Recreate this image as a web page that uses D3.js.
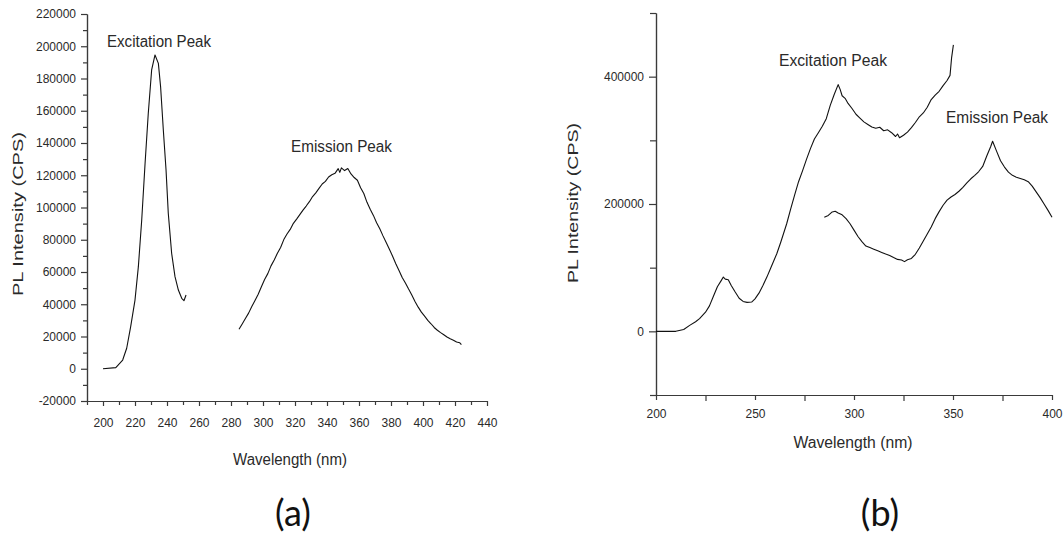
<!DOCTYPE html>
<html>
<head>
<meta charset="utf-8">
<script src="https://cdn.jsdelivr.net/npm/d3@7"></script>
<style>
  html, body { margin: 0; padding: 0; background: #fff; }
  svg { display: block; }
  text { font-family: "Liberation Sans", Arial, sans-serif; fill: #2a2a2a; }
</style>
</head>
<body>
<svg id="fig" width="1063" height="540"></svg>
<script>
// ---------- Panel (a): single-peak spectra ----------
const aExcitation = [
  [200, 0], [208, 700], [212.3, 5400], [214.8, 12700], [217.3, 26100], [220, 42600],
  [222.1, 63300], [224.2, 92200], [226.3, 127400], [228.3, 158400], [230.4, 185300],
  [232.5, 194600], [234.6, 189400], [236, 174900], [237.7, 148100], [239.4, 123300],
  [240.8, 96400], [242.9, 71600], [245, 57100], [247.1, 48800], [249.2, 43700],
  [250.6, 42200], [251.9, 45700]
];
const aEmission = [
  [285, 24500], [287, 27800], [289, 31200], [291, 34500], [293, 38600], [295, 42300],
  [297, 46200], [299, 50800], [301, 55400], [303, 59000], [305, 63800], [307, 67500],
  [309, 71600], [311, 75200], [313, 80100], [315, 83600], [317, 86400], [319, 90200],
  [321, 92800], [323, 95600], [325, 98400], [327, 100900], [329, 103600], [331, 106800],
  [333, 109100], [335, 111900], [337, 114600], [339, 116200], [341, 118900], [343, 120300],
  [345, 121200], [347, 124100], [348, 121800], [349, 124600], [351, 122900], [353, 124200],
  [355, 120800], [357, 118600], [359, 116900], [361, 112300], [363, 108700], [365, 103200],
  [367, 98900], [369, 95100], [371, 90600], [373, 86800], [375, 82400], [377, 78300],
  [379, 74100], [381, 69800], [383, 65100], [385, 60900], [387, 56600], [389, 53200],
  [391, 49400], [393, 45800], [395, 41700], [397, 38200], [399, 35100], [401, 32600],
  [403, 30000], [405, 27900], [407, 25600], [409, 23900], [411, 22400], [413, 21100],
  [415, 19700], [417, 18600], [419, 17700], [421, 16600], [423, 16100], [424, 15000]
];
const aXTicks = [200, 220, 240, 260, 280, 300, 320, 340, 360, 380, 400, 420, 440];
const aXMinor = [190, 210, 230, 250, 270, 290, 310, 330, 350, 370, 390, 410, 430];
const aYTicks = [-20000, 0, 20000, 40000, 60000, 80000, 100000, 120000, 140000,
                 160000, 180000, 200000, 220000];
const aYMinor = [-10000, 10000, 30000, 50000, 70000, 90000, 110000, 130000, 150000,
                 170000, 190000, 210000];

// ---------- Panel (b): two-band spectra ----------
const bExcitation = [
  [200, 0], [210, 0], [214, 3000], [217, 9400], [220, 15000], [222, 19900], [225, 30000],
  [227, 40000], [229, 55000], [231, 70000], [233, 80000], [234, 85200], [235, 82000],
  [236.5, 81100], [238, 72000], [240, 61700], [242, 52000], [244, 47000], [246, 45500],
  [248.3, 46000], [250, 51000], [252, 60000], [254, 72000], [256, 85200], [258, 100000],
  [261, 121900], [263, 140000], [266, 169000], [268, 192000], [270, 214000], [272, 235000],
  [274, 252000], [276, 270000], [278, 287000], [280, 302000], [282, 312000], [284, 322000],
  [286, 334000], [288, 355000], [290, 372000], [292, 387500], [293, 380000], [294, 370000],
  [295.5, 366000], [297, 358000], [299, 350000], [301, 341000], [303, 335000], [305, 329000],
  [307, 325000], [309, 321000], [311, 319000], [313, 320500], [315, 315000], [317, 316500],
  [319, 312000], [321, 306000], [322, 310000], [323, 304000], [325, 308000], [327, 313000],
  [329, 320000], [331, 328000], [333, 337000], [335, 343000], [337, 352000], [339, 364000],
  [341, 371000], [343, 377000], [345, 386000], [347, 394000], [348.5, 402000],
  [349.3, 430000], [350.2, 450000]
];
const bEmission = [
  [285, 179300], [287, 182000], [289, 187500], [290.5, 188700], [292, 186000], [294, 183000],
  [296, 177000], [298, 169000], [300, 159000], [302, 149000], [304, 141000], [306, 134000],
  [308, 131500], [310, 129000], [312, 126500], [314, 124000], [316, 121500], [318, 119200],
  [320, 116000], [322, 113000], [324, 112000], [325.5, 109500], [327, 112500], [329, 114500],
  [331, 121000], [333, 131000], [335, 142000], [337, 153000], [339, 164000], [341, 177000],
  [343, 188000], [345, 198000], [347, 206000], [349, 211000], [351, 215000], [353, 220000],
  [355, 226000], [357, 233000], [359, 239600], [361, 245000], [363, 251000], [365, 259000],
  [367, 275000], [369, 290000], [370, 298600], [372, 283000], [374, 268000], [376, 258000],
  [378, 250000], [380, 245000], [382, 242000], [384, 240000], [386, 238000], [388, 235000],
  [390, 228000], [392, 219000], [394, 210000], [396, 200000], [398, 190000], [400, 179300]
];
const bXTicks = [200, 250, 300, 350, 400];
const bXMinor = [225, 275, 325, 375];
const bYTicks = [0, 200000, 400000];
const bYMinor = [-100000, 100000, 300000, 500000];

const svg = d3.select("#fig");
const axisColor = "#3a3a3a";
// plain integers with an ASCII hyphen for negatives
const intFmt = d => String(Math.round(d));

function styleAxis(g) {
  g.select(".domain").attr("stroke", axisColor).attr("stroke-width", 1.2);
  g.selectAll(".tick line").attr("stroke", axisColor).attr("stroke-width", 1.2);
  g.selectAll(".tick text").attr("fill", "#2a2a2a").style("font-size", "12px")
    .style("font-family", '"Liberation Sans", Arial, sans-serif');
}

function drawPanel(cfg) {
  const x = d3.scaleLinear().domain(cfg.xDomain).range(cfg.xRange);
  const y = d3.scaleLinear().domain(cfg.yDomain).range(cfg.yRange);
  const g = svg.append("g");

  // minor ticks first, major ticks + labels on top
  g.append("g").attr("transform", `translate(0,${cfg.yRange[0]})`)
    .call(d3.axisBottom(x).tickValues(cfg.xMinor).tickSize(cfg.minorLen).tickFormat("").tickSizeOuter(0))
    .call(styleAxis);
  g.append("g").attr("transform", `translate(${cfg.xRange[0]},0)`)
    .call(d3.axisLeft(y).tickValues(cfg.yMinor).tickSize(cfg.minorLen).tickFormat("").tickSizeOuter(0))
    .call(styleAxis);
  g.append("g").attr("transform", `translate(0,${cfg.yRange[0]})`)
    .call(d3.axisBottom(x).tickValues(cfg.xTicks).tickSize(cfg.xMajorLen).tickPadding(cfg.xPad)
      .tickFormat(intFmt).tickSizeOuter(0))
    .call(styleAxis);
  g.append("g").attr("transform", `translate(${cfg.xRange[0]},0)`)
    .call(d3.axisLeft(y).tickValues(cfg.yTicks).tickSize(cfg.yMajorLen).tickPadding(cfg.yPad)
      .tickFormat(intFmt).tickSizeOuter(0))
    .call(styleAxis);

  const line = d3.line().x(d => x(d[0])).y(d => y(d[1]));
  cfg.series.forEach(s => {
    g.append("path").datum(s).attr("d", line)
      .attr("fill", "none").attr("stroke", "#111").attr("stroke-width", 1.1)
      .attr("stroke-linejoin", "round");
  });

  cfg.notes.forEach(n => {
    g.append("text").attr("x", n.x).attr("y", n.y).attr("text-anchor", "middle")
      .attr("textLength", n.len).attr("lengthAdjust", "spacingAndGlyphs")
      .style("font-size", "16px").text(n.text);
  });

  g.append("text").attr("x", cfg.xTitle.x).attr("y", cfg.xTitle.y).attr("text-anchor", "middle")
    .attr("textLength", cfg.xTitle.len).attr("lengthAdjust", "spacingAndGlyphs")
    .style("font-size", "16px").text("Wavelength (nm)");

  g.append("text")
    .attr("transform", `translate(${cfg.yTitle.x},${cfg.yTitle.y}) rotate(-90)`)
    .attr("text-anchor", "middle")
    .attr("textLength", cfg.yTitle.len).attr("lengthAdjust", "spacingAndGlyphs")
    .style("font-size", "15px").text("PL Intensity (CPS)");
}

drawPanel({
  xDomain: [190, 440], xRange: [87, 487],
  yDomain: [-20000, 220000], yRange: [401, 14],
  xTicks: aXTicks, xMinor: aXMinor, yTicks: aYTicks, yMinor: aYMinor,
  minorLen: 4, xMajorLen: 5, yMajorLen: 6, xPad: 12, yPad: 5,
  series: [aExcitation, aEmission],
  notes: [
    { text: "Excitation Peak", x: 159, y: 46.5, len: 104 },
    { text: "Emission Peak", x: 341.5, y: 151.5, len: 101 }
  ],
  xTitle: { x: 290, y: 465, len: 114 },
  yTitle: { x: 23, y: 214, len: 164 }
});

drawPanel({
  xDomain: [200, 400], xRange: [656, 1052],
  yDomain: [-100000, 500000], yRange: [395, 13],
  xTicks: bXTicks, xMinor: bXMinor, yTicks: bYTicks, yMinor: bYMinor,
  minorLen: 6, xMajorLen: 5, yMajorLen: 7, xPad: 9, yPad: 5,
  series: [bExcitation, bEmission],
  notes: [
    { text: "Excitation Peak", x: 833, y: 65.5, len: 108 },
    { text: "Emission Peak", x: 997, y: 123, len: 102 }
  ],
  xTitle: { x: 853, y: 448, len: 119 },
  yTitle: { x: 578, y: 203, len: 160 }
});

// panel captions
const captions = [{ t: "(a)", x: 293 }, { t: "(b)", x: 880 }];
svg.selectAll("text.caption").data(captions).enter().append("text")
  .attr("class", "caption").attr("x", d => d.x).attr("y", 526)
  .attr("text-anchor", "middle")
  .style("font-family", 'Lato, "Open Sans", sans-serif').style("font-size", "36px")
  .style("fill", "#111").text(d => d.t);
</script>
</body>
</html>
